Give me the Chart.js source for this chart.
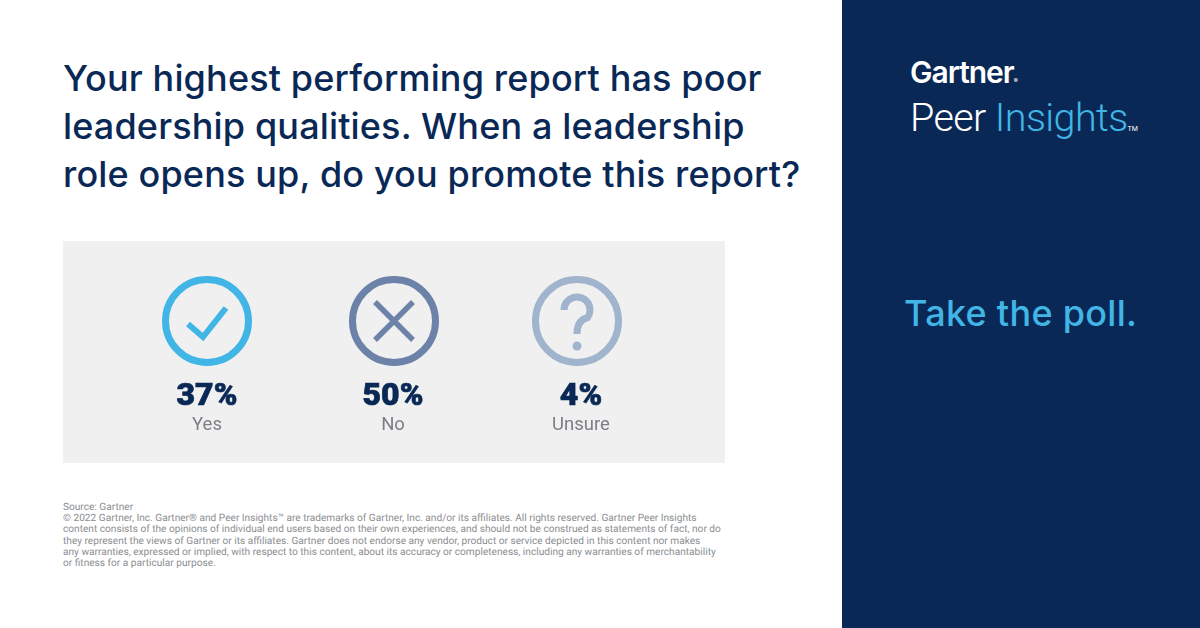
<!DOCTYPE html>
<html>
<head>
<meta charset="utf-8">
<title>Gartner Peer Insights poll</title>
<script src="https://cdn.jsdelivr.net/npm/chart.js@4"></script>
<style>
  html, body { margin: 0; padding: 0; background: #fff; }
  #page { position: relative; width: 1200px; height: 628px; overflow: hidden; font-family: Inter, sans-serif; }
  #side { position: absolute; left: 842px; top: 0; width: 358px; height: 628px; background: #0a2855; }
  #question { position: absolute; left: 63px; top: 54px; margin: 0; font-size: 36px; line-height: 48px; font-weight: 500; color: #0a2855; white-space: nowrap; letter-spacing: 0.15px; }
  #panel { position: absolute; left: 63px; top: 241px; width: 662px; height: 222px; background: #f0f0f0; }
  #note { position: absolute; left: 63px; top: 502px; font-family: Roboto, sans-serif; font-size: 10.15px; line-height: 11.2px; color: #8b8e91; white-space: nowrap; text-rendering: geometricPrecision; }
  .brand { position: absolute; white-space: nowrap; }
  #brand1 { left: 910px; top: 54px; font-size: 30px; line-height: 36px; font-weight: 600; color: #fff; letter-spacing: -1px; }
  #brand1 small { font-size: 6px; letter-spacing: 0; }
  #brand2 { left: 910px; top: 94px; font-family: Roboto, sans-serif; font-size: 39.5px; line-height: 48px; font-weight: 300; color: #fff; letter-spacing: -0.6px; }
  #brand2 span { color: #41b6e6; }
  #brand2 small { font-size: 7px; color: #fff; letter-spacing: 0; font-weight: 400; }
  #cta { position: absolute; left: 904px; top: 290px; font-size: 36px; line-height: 46px; font-weight: 500; color: #41b6e6; white-space: nowrap; letter-spacing: 0.3px; }
</style>
</head>
<body>
<div id="page">
  <h1 id="question">Your highest performing report has poor<br>leadership qualities. When a leadership<br>role opens up, do you promote this report?</h1>
  <div id="panel"><canvas id="pollChart" width="662" height="222"></canvas></div>
  <div id="note">Source: Gartner<br>© 2022 Gartner, Inc. Gartner® and Peer Insights™ are trademarks of Gartner, Inc. and/or its affiliates. All rights reserved. Gartner Peer Insights<br>content consists of the opinions of individual end users based on their own experiences, and should not be construed as statements of fact, nor do<br>they represent the views of Gartner or its affiliates. Gartner does not endorse any vendor, product or service depicted in this content nor makes<br>any warranties, expressed or implied, with respect to this content, about its accuracy or completeness, including any warranties of merchantability<br>or fitness for a particular purpose.</div>
  <div id="side"></div>
  <div id="brand1" class="brand">Gartner<small>®</small></div>
  <div id="brand2" class="brand">Peer <span>Insights</span><small>TM</small></div>
  <div id="cta">Take the poll.</div>
</div>
<script>
const pollLabels = ['Yes', 'No', 'Unsure'];
const pollValues = [37, 50, 4];
const pollColors = ['#41b6e6', '#6c82a8', '#a0b4ce'];

// The artwork isn't evenly spaced, so rings and captions get small offsets
const ringNudge = [0, 2, 0];
const textNudge = [0, 1, 4];

// Tick, cross and question mark inside the rings
function drawGlyph(ctx, i, x, y) {
  ctx.save();
  ctx.translate(x, y);
  ctx.strokeStyle = pollColors[i];
  ctx.fillStyle = pollColors[i];
  ctx.beginPath();
  if (i === 0) {
    ctx.lineWidth = 6;
    ctx.lineJoin = 'miter';
    ctx.moveTo(-19, 3);
    ctx.lineTo(-4, 16);
    ctx.lineTo(19, -13);
    ctx.stroke();
  } else if (i === 1) {
    ctx.lineWidth = 5.5;
    ctx.moveTo(-19, -19);
    ctx.lineTo(19, 19);
    ctx.moveTo(19, -19);
    ctx.lineTo(-19, 19);
    ctx.stroke();
  } else {
    ctx.lineWidth = 7;
    ctx.arc(0, -11, 13, Math.PI, Math.PI * 0.2);
    ctx.quadraticCurveTo(0, -1, 0, 13);
    ctx.stroke();
    ctx.beginPath();
    ctx.arc(0, 25, 4.5, 0, Math.PI * 2);
    ctx.fill();
  }
  ctx.restore();
}

const pollMarks = {
  id: 'pollMarks',
  afterDatasetsUpdate(chart) {
    chart.getDatasetMeta(0).data.forEach((point, i) => {
      point.x += ringNudge[i];
    });
  },
  afterDatasetsDraw(chart) {
    const ctx = chart.ctx;
    chart.getDatasetMeta(0).data.forEach((point, i) => {
      drawGlyph(ctx, i, point.x, point.y);

      const textX = point.x - ringNudge[i] + textNudge[i];
      const valueText = point.$context.raw.value + '%';
      ctx.textAlign = 'center';
      ctx.textBaseline = 'alphabetic';
      ctx.fillStyle = '#0a2855';
      ctx.strokeStyle = '#0a2855';
      ctx.lineWidth = 0.7;
      ctx.font = '900 32px Roboto';
      ctx.fillText(valueText, textX, 164);
      ctx.strokeText(valueText, textX, 164);
      ctx.fillStyle = '#7b7f84';
      ctx.font = '400 18.5px Roboto';
      ctx.fillText(pollLabels[i], textX, 189);
    });
  }
};

new Chart(document.getElementById('pollChart'), {
  type: 'line',
  data: {
    labels: pollLabels,
    yLabels: ['icon'],
    datasets: [{
      label: 'Share of respondents',
      data: pollLabels.map((label, i) => ({ x: label, y: 'icon', value: pollValues[i] })),
      showLine: false,
      pointStyle: 'circle',
      pointRadius: 41.5,
      pointBorderWidth: 7,
      pointBackgroundColor: 'transparent',
      pointBorderColor: pollColors,
      clip: false
    }]
  },
  options: {
    responsive: false,
    animation: false,
    events: [],
    layout: { autoPadding: false, padding: { left: 51.5, right: 55.5, top: 0, bottom: 62 } },
    scales: {
      x: { type: 'category', offset: true, display: false },
      y: { type: 'category', offset: true, display: false }
    },
    plugins: {
      legend: { display: false },
      tooltip: { enabled: false }
    }
  },
  plugins: [pollMarks]
});
</script>
</body>
</html>
